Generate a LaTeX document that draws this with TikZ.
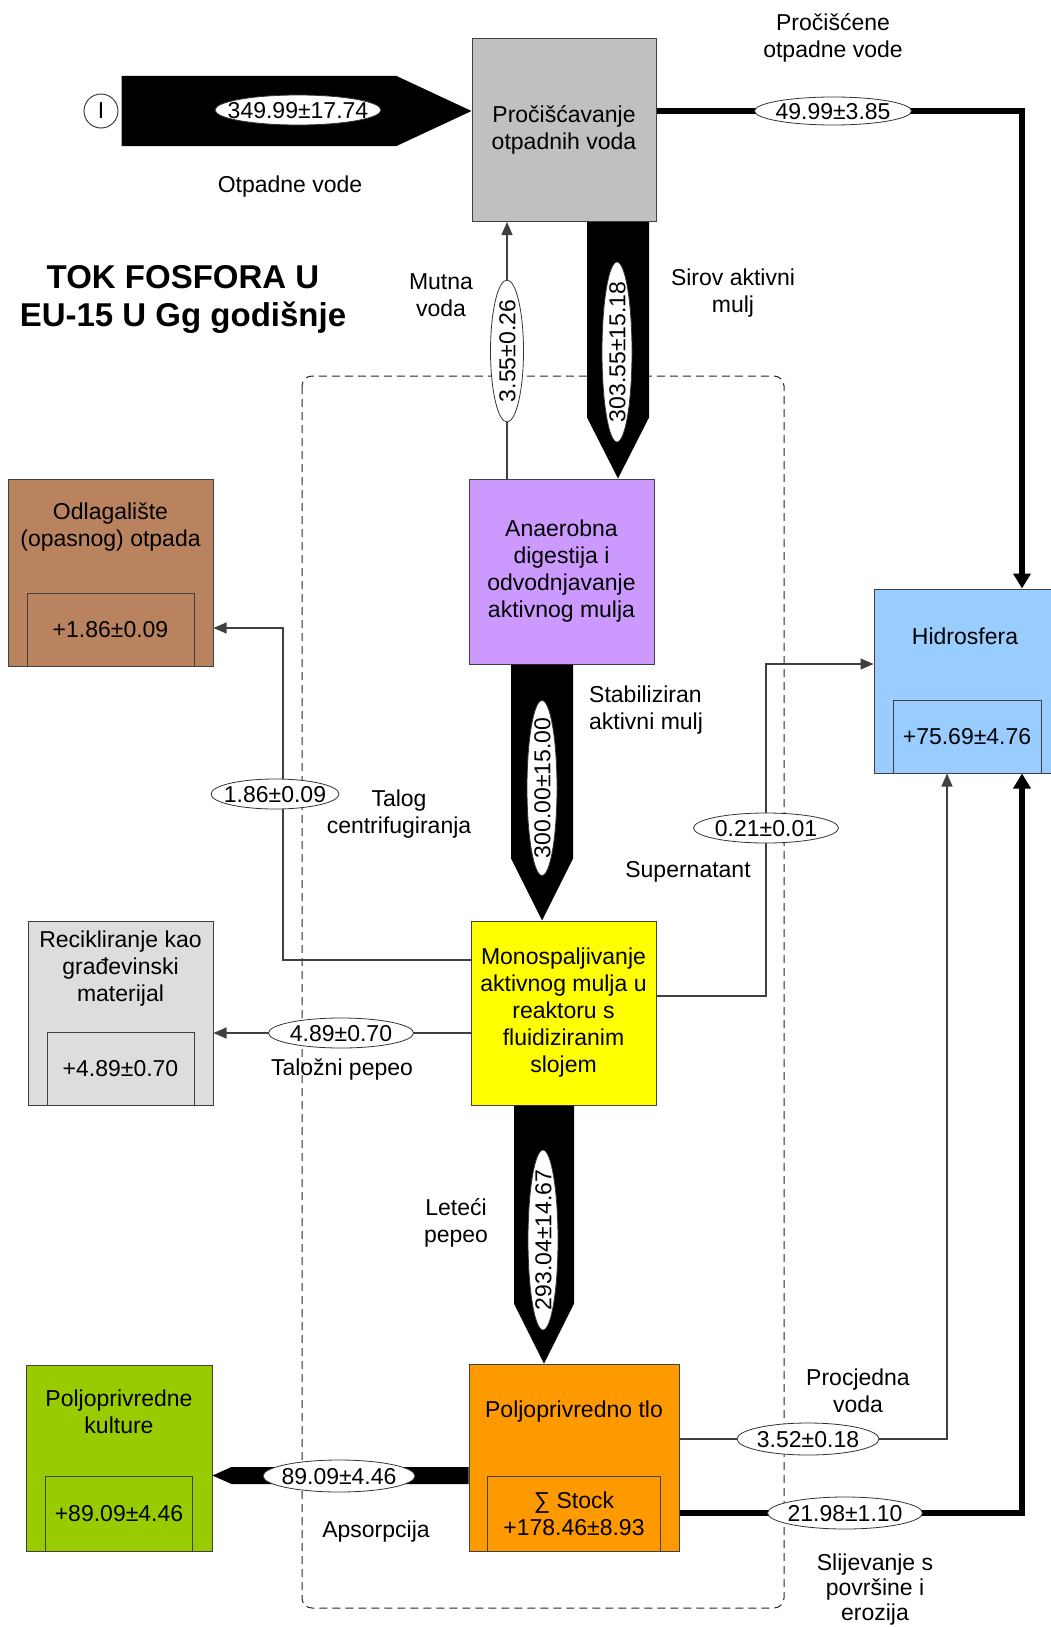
\documentclass[tikz,border=0pt]{standalone}
\usepackage{fontspec}
\setmainfont{Liberation Sans}
\usepackage{tikz}
\usetikzlibrary{arrows.meta}
\usetikzlibrary{positioning}
\usetikzlibrary{shapes.geometric}
\usetikzlibrary{calc}
\definecolor{sivo}{HTML}{C0C0C0}
\definecolor{ljubicasto}{HTML}{CC99FF}
\definecolor{zuto}{HTML}{FFFF00}
\definecolor{narancasto}{HTML}{FF9900}
\definecolor{smede}{HTML}{B9835F}
\definecolor{svijetlosivo}{HTML}{DDDDDD}
\definecolor{zeleno}{HTML}{99CC00}
\definecolor{plavo}{HTML}{99CCFF}
\newcommand\iznos[1]{\makebox[0pt]{\smash{\raisebox{-0.36em}{#1}}}}
\tikzset{
    blok/.style = {rectangle, draw=black!75, line width=1pt, align=center, inner sep=0pt},
    zaliha/.style = {rectangle, draw=black!75, line width=1pt, align=center, inner sep=0pt},
    vrijednost/.style = {ellipse, draw=black!80, fill=white, line width=0.8pt, inner sep=0pt},
    natpis/.style = {align=center, inner sep=0pt},
    tanko/.style = {draw=black!75, line width=1.2pt, -{Triangle[length=13pt,width=11pt]}},
    debelo/.style = {draw=black, line width=6pt, -{Triangle[length=15pt,width=17pt]}},
    c1/.style = {fill=sivo},
    c2/.style = {fill=ljubicasto},
    c3/.style = {fill=zuto},
    c4/.style = {fill=narancasto},
    c5/.style = {fill=smede},
    c6/.style = {fill=svijetlosivo},
    c7/.style = {fill=zeleno},
    c8/.style = {fill=plavo}
}

\begin{document}
\begin{tikzpicture}[x=1pt, y=-1pt, font=\fontsize{23}{27}\selectfont]
    \useasboundingbox (0,0) rectangle (1051,1627);
    % granica sustava
    \draw[black!85, line width=1pt, dash pattern=on 8pt off 5pt, rounded corners=10pt] (302,376) rectangle (784,1608);

    % procesi
    \node (P) [blok, c1, minimum width=184pt, minimum height=183pt] at (564,130) {Pročišćavanje\\otpadnih voda};
    \node (A) [blok, c2, minimum width=185pt, minimum height=185pt] at (561.5,571.5) {Anaerobna\\digestija i\\odvodnjavanje\\aktivnog mulja};
    \node (M) [blok, c3, minimum width=185pt, minimum height=184pt] at (563.5,1013) {Monospaljivanje\\aktivnog mulja u\\reaktoru s\\fluidiziranim\\slojem};
    \node (T) [blok, c4, minimum width=210pt, minimum height=187pt] at (574,1457.5) {};
    \node (O) [blok, c5, minimum width=205pt, minimum height=187pt] at (110.5,572.5) {};
    \node (R) [blok, c6, minimum width=185pt, minimum height=184pt] at (120.5,1013) {};
    \node (G) [blok, c7, minimum width=186pt, minimum height=186pt] at (119,1458) {};
    \node (H) [blok, c8, minimum width=186pt, minimum height=184pt] at (967,681) {};

    % naslovi i zalihe
    \node (Tn) [natpis] at ($(T.north)+(0,48)$) {Poljoprivredno tlo};
    \node (On) [natpis] at ($(O.north)+(0,48.5)$) {Odlagalište\\(opasnog) otpada};
    \node (Rn) [natpis] at ($(R.north)+(0,48)$) {Recikliranje kao\\građevinski\\materijal};
    \node (Gn) [natpis] at ($(G.north)+(0,47)$) {Poljoprivredne\\kulture};
    \node (Hn) [natpis] at ($(H.north)+(-2,48)$) {Hidrosfera};
    \node (Tz) [zaliha, minimum width=173pt, minimum height=75pt, above=0pt of T.south] {∑ Stock\\+178.46±8.93};
    \node (Oz) [zaliha, minimum width=167pt, minimum height=73pt, above=0pt of O.south] {+1.86±0.09};
    \node (Rz) [zaliha, minimum width=147pt, minimum height=73pt, above=0pt of R.south] {+4.89±0.70};
    \node (Gz) [zaliha, minimum width=147pt, minimum height=75pt, above=0pt of G.south] {+89.09±4.46};
    \node (Hz) [zaliha, minimum width=148pt, minimum height=73pt, above=0pt of H.south] {+75.69±4.76};

    \node (naslov) [natpis, font=\fontsize{33}{38}\selectfont\bfseries] at (183,299) {TOK FOSFORA U\\EU-15 U Gg godišnje};
    \node (I) [circle, draw=black!75, line width=1pt, minimum size=34pt, inner sep=0pt] at (101,111) {I};

    % debeli tokovi
    \fill ($(I.east)+(3,-35)$) -- ($(P.west |- I.center)+(-75,-35)$) -- (P.west |- I.center)
        -- ($(P.west |- I.center)+(-75,35)$) -- ($(I.east)+(3,35)$) -- cycle;
    \fill ($(P.south)+(23,0)$) -- ($(P.south |- A.north)+(23,-61)$) -- ($(P.south |- A.north)+(54,0)$)
        -- ($(P.south |- A.north)+(85,-61)$) -- ($(P.south)+(85,0)$) -- cycle;
    \fill ($(A.south)+(-50.5,0)$) -- ($(A.south |- M.north)+(-50.5,-62)$) -- ($(A.south |- M.north)+(-19.5,0)$)
        -- ($(A.south |- M.north)+(11.5,-62)$) -- ($(A.south)+(11.5,0)$) -- cycle;
    \fill ($(M.south)+(-49.5,0)$) -- ($(M.south |- T.north)+(-49.5,-60)$) -- ($(M.south |- T.north)+(-19.5,0)$)
        -- ($(M.south |- T.north)+(10.5,-60)$) -- ($(M.south)+(10.5,0)$) -- cycle;
    \fill ($(T.west)+(0,9.5)$) -- ($(G.east |- T.west)+(19,9.5)$) -- ($(G.east |- T.west)+(0,18)$)
        -- ($(G.east |- T.west)+(19,26.5)$) -- ($(T.west)+(0,26.5)$) -- cycle;
    \draw[debelo] (P.east |- I.center) -| ($(H.north)+(55,0)$);
    \draw[debelo] ($(T.east)+(0,55.5)$) -| ($(H.south)+(55,0)$);

    % tanki tokovi
    \coordinate (t1) at (283,628);
    \coordinate (t2) at (766,664);
    \draw[tanko] ($(A.north)+(-54.5,0)$) -- ($(A.north |- P.south)+(-54.5,0)$);
    \draw[tanko] ($(M.west)+(0,-53)$) -| (t1) -- (t1 -| O.east);
    \draw[tanko] ($(M.west)+(0,20)$) -- ($(R.east)+(0,20)$);
    \draw[tanko] ($(M.east)+(0,-17)$) -| (t2) -- (t2 -| H.west);
    \draw[tanko] ($(T.east)+(0,-18.5)$) -| ($(H.south)+(-20,0)$);

    % vrijednosti
    \node (e1) [vrijednost, minimum width=166pt, minimum height=30pt] at (298,110) {\iznos{349.99±17.74}};
    \node (e2) [vrijednost, minimum width=157pt, minimum height=28pt] at (833,111) {\iznos{49.99±3.85}};
    \node (e3) [vrijednost, rotate=90, minimum width=180pt, minimum height=30pt] at (617,352) {\iznos{303.55±15.18}};
    \node (e4) [vrijednost, rotate=90, minimum width=142pt, minimum height=33pt] at (507,351) {\iznos{3.55±0.26}};
    \node (e5) [vrijednost, rotate=90, minimum width=175pt, minimum height=30pt] at (542,788) {\iznos{300.00±15.00}};
    \node (e6) [vrijednost, minimum width=128pt, minimum height=30pt] at (275,794) {\iznos{1.86±0.09}};
    \node (e7) [vrijednost, minimum width=145pt, minimum height=30pt] at (341,1033) {\iznos{4.89±0.70}};
    \node (e8) [vrijednost, minimum width=145pt, minimum height=30pt] at (766,828) {\iznos{0.21±0.01}};
    \node (e9) [vrijednost, rotate=90, minimum width=180pt, minimum height=30pt] at (543,1240) {\iznos{293.04±14.67}};
    \node (e10) [vrijednost, minimum width=152pt, minimum height=32pt] at (339,1476) {\iznos{89.09±4.46}};
    \node (e11) [vrijednost, minimum width=142pt, minimum height=32pt] at (808,1439) {\iznos{3.52±0.18}};
    \node (e12) [vrijednost, minimum width=155pt, minimum height=32pt] at (845,1513) {\iznos{21.98±1.10}};

    % nazivi tokova
    \node (l1) [natpis] at (290,187) {Otpadne vode};
    \node (l2) [natpis] at (833,37.5) {Pročišćene\\otpadne vode};
    \node (l3) [natpis] at (733,293.5) {Sirov aktivni\\mulj};
    \node (l4) [natpis] at (441,295.5) {Mutna\\voda};
    \node (l5) [natpis, align=left, anchor=west] at (589,710) {Stabiliziran\\aktivni mulj};
    \node (l6) [natpis] at (399,814) {Talog\\centrifugiranja};
    \node (l7) [natpis] at (342,1070) {Taložni pepeo};
    \node (l8) [natpis] at (688,872) {Supernatant};
    \node (l9) [natpis] at (456,1222.5) {Leteći\\pepeo};
    \node (l10) [natpis] at (376,1532) {Apsorpcija};
    \node (l11) [natpis] at (858,1391) {Procjedna\\voda};
    \node (l12) [natpis, font=\fontsize{23}{25}\selectfont] at (875,1590) {Slijevanje s\\površine i\\erozija};
\end{tikzpicture}
\end{document}
